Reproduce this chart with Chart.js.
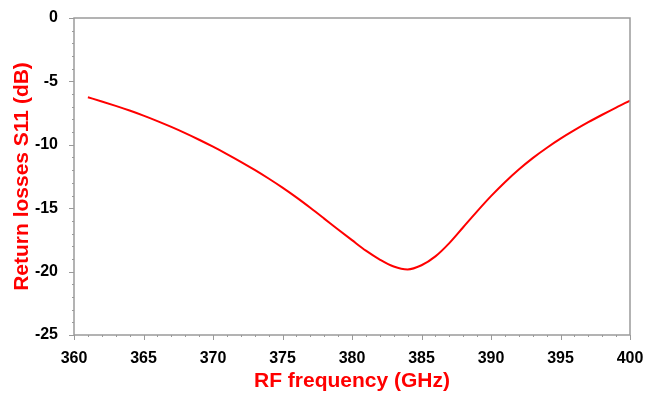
<!DOCTYPE html>
<html>
<head>
<meta charset="utf-8">
<script src="https://cdn.jsdelivr.net/npm/chart.js@4"></script>
<style>
    body { margin: 0; background: #fff; }
    #wrap { width: 654px; height: 395px; }
</style>
</head>
<body>
<div id="wrap"><canvas id="myChart" width="654" height="395"></canvas></div>
<script>
// frequency in GHz, S11 in dB
const freqs = [361, 362, 363, 364, 365, 366, 367, 368, 369, 370,
    371, 372, 373, 374, 375, 376, 377, 378, 379, 380,
    381, 382, 383, 384, 385, 386, 387, 388, 389, 390,
    391, 392, 393, 394, 395, 396, 397, 398, 399, 400];
const s11 = [-6.25, -6.58, -6.93, -7.3, -7.7, -8.13, -8.59, -9.08, -9.6, -10.15,
    -10.73, -11.34, -11.98, -12.66, -13.38, -14.15, -14.97, -15.82, -16.68, -17.52,
    -18.35, -19.05, -19.6, -19.83, -19.5, -18.8, -17.75, -16.5, -15.25, -14.05,
    -12.95, -11.95, -11.05, -10.25, -9.52, -8.85, -8.22, -7.63, -7.06, -6.52];
const xTicks = [360, 365, 370, 375, 380, 385, 390, 395, 400];
const yTicks = [0, -5, -10, -15, -20, -25];

const axisGray = '#9a9a9a';
const tickFont = { family: 'Liberation Sans, Arial, sans-serif', size: 16, weight: 'bold' };
const titleFont = { family: 'Liberation Sans, Arial, sans-serif', size: 21, weight: 'bold' };

// frame round the plot + minor/major tick marks
const framePlugin = {
    id: 'frame',
    afterDraw: function (chart) {
        const ctx = chart.ctx;
        const a = chart.chartArea;
        const xs = chart.scales.x;
        const ys = chart.scales.y;
        ctx.save();
        ctx.strokeStyle = axisGray;
        ctx.lineWidth = 1.5;
        ctx.strokeRect(a.left, a.top, a.right - a.left, a.bottom - a.top);
        ctx.lineWidth = 1;
        ctx.beginPath();
        for (let v = xs.min; v <= xs.max; v++) {
            const px = Math.round(xs.getPixelForValue(v)) + 0.5;
            const len = xTicks.includes(v) ? 5 : 2;
            ctx.moveTo(px, a.bottom);
            ctx.lineTo(px, a.bottom + len);
        }
        for (let v = ys.min; v <= ys.max; v++) {
            const py = Math.round(ys.getPixelForValue(v)) + 0.5;
            const len = yTicks.includes(v) ? 5 : 2;
            ctx.moveTo(a.left, py);
            ctx.lineTo(a.left - len, py);
        }
        ctx.stroke();
        ctx.restore();
    }
};

const drawChart = function () {
    const ctx = document.querySelector('#myChart').getContext('2d');
    const points = [];
    for (let i = 0; i < freqs.length; i++) {
        points.push({ x: freqs[i], y: s11[i] });
    }
    new Chart(ctx, {
        type: 'line',
        data: {
            datasets: [{
                label: 'S11',
                data: points,
                borderColor: '#ff0000',
                borderWidth: 2,
                pointRadius: 0,
                fill: false,
                cubicInterpolationMode: 'monotone'
            }]
        },
        options: {
            responsive: false,
            animation: false,
            events: [],
            layout: { padding: { top: 18, right: 24, left: 0, bottom: 0 } },
            plugins: { legend: { display: false }, tooltip: { enabled: false } },
            scales: {
                x: {
                    type: 'linear',
                    min: 360,
                    max: 400,
                    afterFit: function (scale) { scale.height = 60; },
                    afterBuildTicks: function (scale) {
                        scale.ticks = xTicks.map(function (v) { return { value: v }; });
                    },
                    grid: { display: false },
                    border: { display: false },
                    ticks: { color: '#000', font: tickFont, padding: 6, maxRotation: 0 },
                    title: {
                        display: true,
                        text: 'RF frequency (GHz)',
                        color: '#ff0000',
                        font: titleFont,
                        padding: { top: 0, bottom: 1 }
                    }
                },
                y: {
                    type: 'linear',
                    min: -25,
                    max: 0,
                    afterFit: function (scale) { scale.width = 74; },
                    afterBuildTicks: function (scale) {
                        scale.ticks = yTicks.map(function (v) { return { value: v }; });
                    },
                    grid: { display: false },
                    border: { display: false },
                    ticks: {
                        color: '#000', font: tickFont, padding: 8,
                        callback: function (v) { return String(v); }
                    },
                    title: {
                        display: true,
                        text: 'Return losses S11 (dB)',
                        color: '#ff0000',
                        font: titleFont,
                        padding: { top: 10, bottom: 0 }
                    }
                }
            }
        },
        plugins: [framePlugin]
    });
};

drawChart();
</script>
</body>
</html>
